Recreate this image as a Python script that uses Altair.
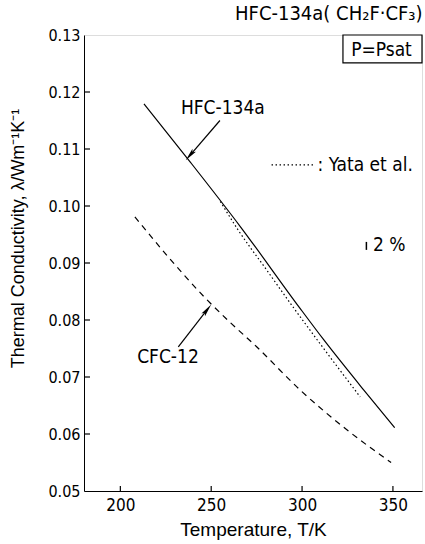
import altair as alt
import pandas as pd

# ---- data ----
hfc_T = [213, 238.5, 266, 299, 312, 334, 351]
hfc_L = [0.1179, 0.1077, 0.0964, 0.0820, 0.0765, 0.0677, 0.0611]

yata_T = [255, 265, 280, 295, 310, 332]
yata_L = [0.1008, 0.0957, 0.0890, 0.0823, 0.0758, 0.0665]

cfc_T = [208, 226, 246, 260, 275, 299, 326, 349]
cfc_L = [0.0981, 0.0912, 0.0841, 0.0797, 0.0753, 0.0677, 0.0604, 0.0550]

x_ticks = [200, 250, 300, 350]
y_ticks = [0.05, 0.06, 0.07, 0.08, 0.09, 0.10, 0.11, 0.12, 0.13]

X_DOM = [180, 366]
Y_DOM = [0.05, 0.13]
W, H = 338, 456
NARROW = "Liberation Sans Narrow, DejaVu Sans Condensed, Arial Narrow, sans-serif"
SANS = "Liberation Sans, Arial, Helvetica, sans-serif"

xs = alt.Scale(domain=X_DOM, nice=False, zero=False)
ys = alt.Scale(domain=Y_DOM, nice=False, zero=False)

df = pd.concat([
    pd.DataFrame({"T": hfc_T, "L": hfc_L, "s": "HFC-134a"}),
    pd.DataFrame({"T": yata_T, "L": yata_L, "s": "Yata"}),
    pd.DataFrame({"T": cfc_T, "L": cfc_L, "s": "CFC-12"}),
])

x_axis = alt.Axis(values=x_ticks, title="Temperature,  T/K", tickSize=0, labelPadding=6,
                  grid=False, labelFont=NARROW, labelFontSize=17, titleFont=SANS,
                  titleFontSize=19, titleFontWeight="normal", titlePadding=7,
                  domainColor="black", labelColor="black", titleColor="black")
y_axis = alt.Axis(values=y_ticks, format=".2f", title="Thermal Conductivity, λ/Wm⁻¹K⁻¹",
                  tickSize=0, labelPadding=4, grid=False, labelFont=NARROW, labelFontSize=16,
                  titleFont=SANS, titleFontSize=18, titleFontWeight="normal",
                  titleX=-57, titleY=203, domainColor="black",
                  labelColor="black", titleColor="black")

def line(name, dash):
    kw = dict(color="black", strokeWidth=1.2, interpolate="monotone")
    if dash:
        kw["strokeDash"] = dash
    return alt.Chart(df[df.s == name]).mark_line(**kw).encode(
        x=alt.X("T:Q", scale=xs, axis=x_axis),
        y=alt.Y("L:Q", scale=ys, axis=y_axis),
    )

hfc = line("HFC-134a", None)
yata = line("Yata", [1.5, 2.5])
cfc = line("CFC-12", [6, 5])

# inward ticks
ytk = alt.Chart(pd.DataFrame({"v": y_ticks[1:-1]})).mark_rule(
    color="black", strokeWidth=1.2).encode(
    y=alt.Y("v:Q", scale=ys), x=alt.value(0), x2=alt.value(6))
xtk = alt.Chart(pd.DataFrame({"v": x_ticks})).mark_rule(
    color="black", strokeWidth=1.2).encode(
    x=alt.X("v:Q", scale=xs), y=alt.value(H), y2=alt.value(H - 5))

# annotations
labels = pd.DataFrame({
    "T": [256.4, 226.2, 308.5, 339.0, 343.7],
    "L": [0.1172, 0.0735, 0.1072, 0.0932, 0.1273],
    "t": ["HFC-134a", "CFC-12", ": Yata et al.", "2 %", "P=Psat"],
    "a": ["center", "center", "left", "left", "center"],
})
txt_c = alt.Chart(labels[labels.a == "center"]).mark_text(
    font=NARROW, fontSize=19, color="black", baseline="middle", align="center").encode(
    x=alt.X("T:Q", scale=xs), y=alt.Y("L:Q", scale=ys), text="t:N")
txt_l = alt.Chart(labels[labels.a == "left"]).mark_text(
    font=NARROW, fontSize=19, color="black", baseline="middle", align="left").encode(
    x=alt.X("T:Q", scale=xs), y=alt.Y("L:Q", scale=ys), text="t:N")

arrows = pd.DataFrame({
    "x0": [254.8, 231.9], "y0": [0.1150, 0.0753],
    "x1": [238.3, 247.8], "y1": [0.1089, 0.0818],
    "ang": [220.6, 38.0],
})
arr_shaft = alt.Chart(arrows).mark_rule(color="black", strokeWidth=1.2).encode(
    x=alt.X("x0:Q", scale=xs), y=alt.Y("y0:Q", scale=ys),
    x2="x1:Q", y2="y1:Q")
arr_head = alt.Chart(arrows).mark_point(
    shape="M0,-1L0.35,1L0,0.6L-0.35,1Z", filled=True, color="black", size=170, opacity=1).encode(
    x=alt.X("x1:Q", scale=xs), y=alt.Y("y1:Q", scale=ys), angle=alt.Angle("ang:Q", scale=None))

legend_dots = pd.DataFrame({"x0": [283.2], "x1": [307.0], "y": [0.1072]})
leg = alt.Chart(legend_dots).mark_rule(color="black", strokeWidth=1.2, strokeDash=[1.5, 2.5]).encode(
    x=alt.X("x0:Q", scale=xs), x2="x1:Q", y=alt.Y("y:Q", scale=ys))

err = pd.DataFrame({"x": [335.4], "y0": [0.0923], "y1": [0.0937]})
errbar = alt.Chart(err).mark_rule(color="black", strokeWidth=1.5).encode(
    x=alt.X("x:Q", scale=xs), y=alt.Y("y0:Q", scale=ys), y2="y1:Q")

box = pd.DataFrame({"x0": [322.5], "x1": [366], "y0": [0.1251], "y1": [0.13]})
boxm = alt.Chart(box).mark_rect(fill="white", stroke="black", strokeWidth=1.2).encode(
    x=alt.X("x0:Q", scale=xs), x2="x1:Q", y=alt.Y("y0:Q", scale=ys), y2="y1:Q")

chart = alt.layer(
    boxm, ytk, xtk, cfc, yata, hfc, arr_shaft, arr_head, leg, errbar, txt_c, txt_l
).properties(
    width=W, height=H,
    title=alt.TitleParams("HFC-134a( CH₂F·CF₃)", anchor="end", font=NARROW, fontSize=20,
                          fontWeight="normal", color="black", offset=3),
    autosize=alt.AutoSizeParams(type="none"),
    padding={"left": 84, "top": 35, "right": 3, "bottom": 53},
).configure_view(stroke="black", strokeWidth=1.2).configure(background="white")

chart.save("out.html", embed_options={"renderer": "svg", "actions": False})
